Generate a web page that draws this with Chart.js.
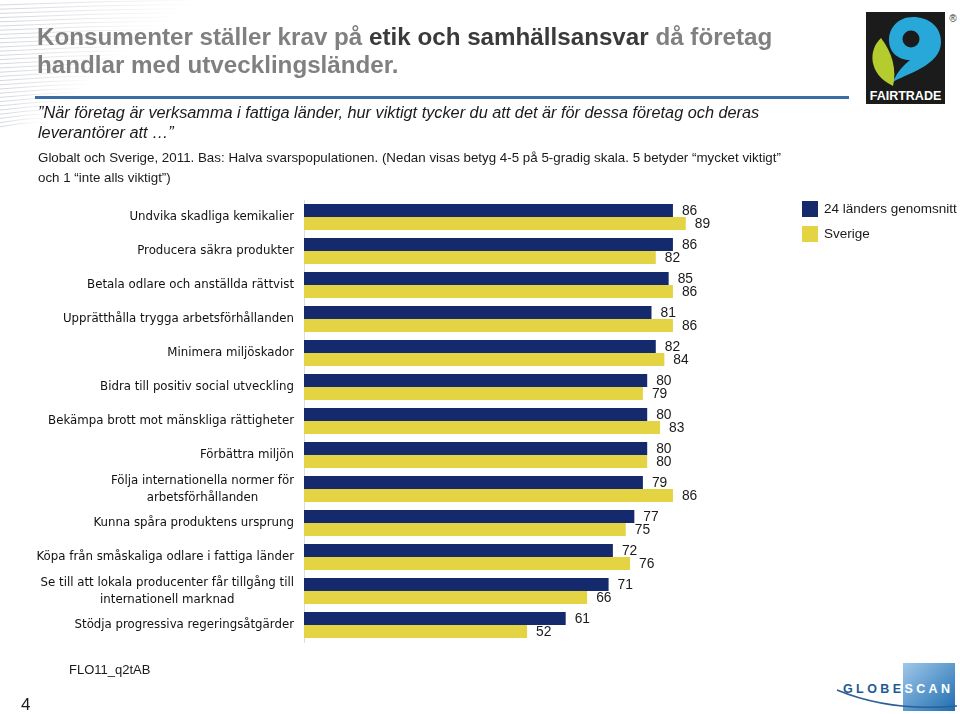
<!DOCTYPE html>
<html>
<head>
<meta charset="utf-8">
<script src="https://cdn.jsdelivr.net/npm/chart.js@4.4.1/dist/chart.umd.min.js"></script>
<style>
  html, body { margin: 0; padding: 0; background: #fff; }
  body { width: 960px; height: 714px; position: relative; overflow: hidden; font-family: "Liberation Sans", Arial, sans-serif; }
  #chart { position: absolute; left: 0; top: 0; }
  .abs { position: absolute; white-space: nowrap; }
  .title { left: 37px; top: 23px; font-size: 24.2px; font-weight: bold; color: #808080; line-height: 28px; }
  .title b { color: #3a3a3a; }
  .rule { left: 35px; top: 96px; width: 814px; height: 3px; background: #3d6da6; }
  .q { left: 38px; top: 103px; font-size: 16.3px; font-style: italic; color: #1a1a1a; line-height: 19.5px; }
  .sub { left: 38px; top: 148px; font-size: 13.35px; color: #1a1a1a; line-height: 20px; }
  .legend { left: 802px; font-size: 13.5px; color: #1a1a1a; }
  .sw { display: inline-block; width: 16px; height: 16px; vertical-align: middle; margin-right: 6px; }
  .foot { left: 69px; top: 662px; font-size: 13px; color: #1a1a1a; }
  .pg { left: 21px; top: 695px; font-size: 17px; color: #1a1a1a; }
</style>
</head>
<body>
<svg id="deco" class="abs" style="left:0;top:0" width="960" height="714"></svg>
<canvas id="chart" width="960" height="714"></canvas>

<div class="abs title">Konsumenter ställer krav på <b>etik och samhällsansvar</b> då företag<br>handlar med utvecklingsländer.</div>
<div class="abs rule"></div>
<div class="abs q">”När företag är verksamma i fattiga länder, hur viktigt tycker du att det är för dessa företag och deras<br>leverantörer att …”</div>
<div class="abs sub">Globalt och Sverige, 2011. Bas: Halva svarspopulationen. (Nedan visas betyg 4-5 på 5-gradig skala. 5 betyder “mycket viktigt”<br>och 1 “inte alls viktigt”)</div>
<div class="abs legend" style="top:201px"><span class="sw" style="background:#142a6c"></span>24 länders genomsnitt</div>
<div class="abs legend" style="top:226px"><span class="sw" style="background:#e4d444"></span>Sverige</div>
<div class="abs foot">FLO11_q2tAB</div>
<div class="abs pg">4</div>

<script>
// ---- data ----
const categories = [
  ["Undvika skadliga kemikalier"],
  ["Producera säkra produkter"],
  ["Betala odlare och anställda rättvist"],
  ["Upprätthålla trygga arbetsförhållanden"],
  ["Minimera miljöskador"],
  ["Bidra till positiv social utveckling"],
  ["Bekämpa brott mot mänskliga rättigheter"],
  ["Förbättra miljön"],
  ["Följa internationella normer för", "arbetsförhållanden"],
  ["Kunna spåra produktens ursprung"],
  ["Köpa från småskaliga odlare i fattiga länder"],
  ["Se till att lokala producenter får tillgång till", "internationell marknad"],
  ["Stödja progressiva regeringsåtgärder"]
];
const seriesNames = ["24 länders genomsnitt", "Sverige"];
const avg24 = [86, 86, 85, 81, 82, 80, 80, 80, 79, 77, 72, 71, 61];
const sverige = [89, 82, 86, 86, 84, 79, 83, 80, 86, 75, 76, 66, 52];
const axisMin = 0, axisMax = 100;

// ---- decoration (background stripes + logos) ----
(function(){
  const svg = document.getElementById('deco');
  let html = '<defs><linearGradient id="fadeS" x1="0" y1="0" x2="1" y2="0">' +
    '<stop offset="0" stop-color="#c8ccd2" stop-opacity="0.8"/><stop offset="1" stop-color="#c8ccd2" stop-opacity="0"/></linearGradient>' +
    '<linearGradient id="gs" x1="0" y1="0" x2="1" y2="1"><stop offset="0" stop-color="#9fc8ea"/><stop offset="1" stop-color="#1f6db0"/></linearGradient></defs>';
  for (let i = 0; i < 30; i++) {
    const y = 2 + i * 4.2;
    const len = 200 - i * 5.5;
    html += '<path d="M0 ' + (y + 3) + ' Q ' + (len * 0.5) + ' ' + (y - 1) + ' ' + len + ' ' + (y - 2) + '" stroke="url(#fadeS)" stroke-width="1" fill="none"/>';
  }
  // Fairtrade logo
  html += '<rect x="866" y="12" width="79" height="92" fill="#1b1b1b"/>';
  html += '<path d="M893 82 C 905 74, 941 66, 941 42 C 941 26, 928 17, 913 17 C 898 17, 889 28, 889 40 C 889 53, 899 60, 910 60 C 903 66, 897 72, 893 82 Z" fill="#28a8d8"/>';
  html += '<circle cx="911" cy="39" r="8.5" fill="#1b1b1b"/>';
  html += '<path d="M881 38 C 868 50, 868 74, 893 86 C 897 70, 892 52, 881 38 Z" fill="#b5cc2e"/>';
  html += '<text x="905.5" y="100" text-anchor="middle" font-family="Liberation Sans, Arial" font-weight="bold" font-size="12.5" fill="#fff">FAIRTRADE</text>';
  html += '<text x="953" y="22" text-anchor="middle" font-family="Liberation Sans, Arial" font-size="10" fill="#333">®</text>';
  // GlobeScan logo
  html += '<rect x="903" y="663" width="52" height="48" fill="url(#gs)"/>';
  html += '<path d="M837 690 Q 890 712 957 706" stroke="#2a5f95" stroke-width="1.6" fill="none"/>';
  html += '<text x="843" y="693" font-family="Liberation Sans, Arial" font-weight="bold" font-size="12.5" letter-spacing="3.4" fill="#1e5a92">GLOBE<tspan fill="#ffffff">SCAN</tspan></text>';
  svg.innerHTML = html;
})();

// ---- chart ----
const navy = '#142a6c', yellow = '#e4d444';
const PLOT_LEFT = 304, PLOT_TOP = 200, PLOT_RIGHT = 733, PLOT_BOTTOM = 642;

const valueLabels = {
  id: 'valueLabels',
  afterDatasetsDraw(chart) {
    const ctx = chart.ctx;
    ctx.save();
    ctx.font = '13.8px "Liberation Sans", Arial, sans-serif';
    ctx.fillStyle = '#1a1a1a';
    ctx.textAlign = 'left';
    ctx.textBaseline = 'middle';
    chart.data.datasets.forEach((ds, di) => {
      chart.getDatasetMeta(di).data.forEach((bar, i) => {
        ctx.fillText(String(ds.data[i]), bar.x + 9, bar.y + 0.5);
      });
    });
    ctx.restore();
  }
};

const catLabels = {
  id: 'catLabels',
  afterDraw(chart) {
    const ctx = chart.ctx;
    const ys = chart.scales.y;
    ctx.save();
    ctx.font = '13.1px "DejaVu Sans Condensed", "DejaVu Sans", sans-serif';
    ctx.fillStyle = '#111';
    ctx.textAlign = 'center';
    ctx.textBaseline = 'middle';
    categories.forEach((lines, i) => {
      const cy = ys.getPixelForValue(i);
      const w = Math.max(...lines.map(l => ctx.measureText(l).width));
      const cx = 294 - w / 2;
      const lh = 17;
      const y0 = cy - (lines.length - 1) * lh / 2;
      lines.forEach((l, k) => ctx.fillText(l, cx, y0 + k * lh));
    });
    ctx.restore();
  }
};

new Chart(document.getElementById('chart'), {
  type: 'bar',
  data: {
    labels: categories.map(c => c.join(' ')),
    datasets: [
      { label: seriesNames[0], data: avg24, backgroundColor: navy, borderWidth: 0 },
      { label: seriesNames[1], data: sverige, backgroundColor: yellow, borderWidth: 0 }
    ]
  },
  options: {
    indexAxis: 'y',
    responsive: false,
    animation: false,
    events: [],
    layout: { padding: { left: 0, top: PLOT_TOP, right: 960 - PLOT_RIGHT, bottom: 714 - PLOT_BOTTOM } },
    datasets: { bar: { categoryPercentage: 0.765, barPercentage: 1.0 } },
    plugins: { legend: { display: false }, tooltip: { enabled: false }, title: { display: false } },
    scales: {
      x: { display: false, min: axisMin, max: axisMax },
      y: {
        afterFit(scale) { scale.width = PLOT_LEFT; },
        ticks: { display: false },
        grid: { display: false },
        border: { display: true, color: '#dcdcdc', width: 1 }
      }
    }
  },
  plugins: [valueLabels, catLabels]
});
</script>
</body>
</html>
